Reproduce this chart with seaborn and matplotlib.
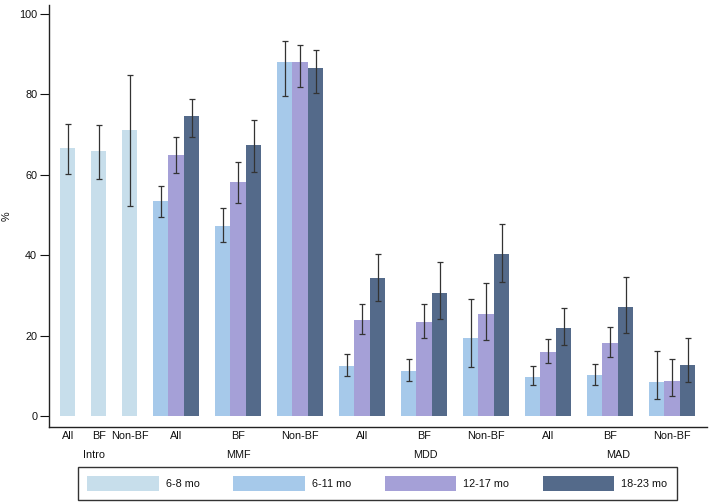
import matplotlib
matplotlib.use("Agg")
import matplotlib.pyplot as plt
import seaborn as sns
import numpy as np
import pandas as pd

# Dados (%), com intervalos de confiança
subgrupos = ['All', 'BF', 'Non-BF']
indicadores = ['MMF', 'MDD', 'MAD']
idades = ['6-8 mo', '6-11 mo', '12-17 mo', '18-23 mo']

# Intro: só 6-8 meses
intro_vals = [66.7, 65.9, 71.0]
intro_lo = [60.2, 59.0, 52.1]
intro_hi = [72.6, 72.3, 84.7]

# MMF (All, BF, Non-BF), MDD (...), MAD (...)
vals_6_11 = [53.4, 47.3, 88.0, 12.4, 11.2, 19.3, 9.8, 10.1, 8.4]
lo_6_11 = [49.4, 43.2, 79.5, 10.0, 8.7, 12.2, 7.6, 7.8, 4.3]
hi_6_11 = [57.2, 51.6, 93.2, 15.3, 14.1, 29.0, 12.5, 13.0, 16.2]

vals_12_17 = [65.0, 58.2, 88.0, 23.9, 23.4, 25.3, 16.0, 18.1, 8.7]
lo_12_17 = [60.5, 53.0, 81.8, 20.3, 19.5, 18.8, 13.1, 14.7, 5.1]
hi_12_17 = [69.4, 63.1, 92.2, 27.9, 27.9, 33.0, 19.2, 22.1, 14.2]

vals_18_23 = [74.6, 67.5, 86.6, 34.4, 30.7, 40.4, 21.8, 27.0, 12.8]
lo_18_23 = [69.5, 60.7, 80.2, 28.7, 24.0, 33.4, 17.6, 20.6, 8.4]
hi_18_23 = [78.9, 73.6, 91.0, 40.3, 38.2, 47.8, 26.8, 34.6, 19.3]

cores = {
    '6-8 mo': '#c7deeb',
    '6-11 mo': '#a6c9ea',
    '12-17 mo': '#a5a0d7',
    '18-23 mo': '#546a8a',
}

# Montar tabela longa com posição de cada barra (uma "vaga" por barra)
linhas = []
for i, sg in enumerate(subgrupos):
    linhas.append({'ind': 'Intro', 'sub': sg, 'idade': '6-8 mo', 'pos': 2 * i,
                   'pct': intro_vals[i], 'lo': intro_lo[i], 'hi': intro_hi[i]})

series = [('6-11 mo', vals_6_11, lo_6_11, hi_6_11),
          ('12-17 mo', vals_12_17, lo_12_17, hi_12_17),
          ('18-23 mo', vals_18_23, lo_18_23, hi_18_23)]
for a, (idade, v, lo, hi) in enumerate(series):
    for j, ind in enumerate(indicadores):
        for s, sg in enumerate(subgrupos):
            k = 3 * j + s
            linhas.append({'ind': ind, 'sub': sg, 'idade': idade,
                           'pos': 6 + 12 * j + 4 * s + a,
                           'pct': v[k], 'lo': lo[k], 'hi': hi[k]})

df = pd.DataFrame(linhas)

sns.set_style('ticks')
plt.rcParams['font.family'] = ['Liberation Sans', 'DejaVu Sans']
plt.rcParams['text.color'] = '#111111'
plt.rcParams['xtick.color'] = '#111111'
plt.rcParams['ytick.color'] = '#111111'
plt.rcParams['axes.labelcolor'] = '#111111'
fs = 7.8

fig = plt.figure(figsize=(7.09, 5.03), dpi=100)
ax = fig.add_axes([49 / 709, 1 - 427 / 503, 658 / 709, 422 / 503])

sns.barplot(data=df, x='pos', y='pct', hue='idade', hue_order=idades,
            palette=cores, native_scale=True, dodge=False, width=1,
            saturation=1, linewidth=0, errorbar=None, ax=ax)

ax.errorbar(df['pos'], df['pct'], yerr=[df['pct'] - df['lo'], df['hi'] - df['pct']],
            fmt='none', ecolor='#333333', elinewidth=0.9, capsize=2.3, capthick=0.9)

ax.set_xlim(-1.21, 41.25)
ax.set_ylim(-2.73, 102.2)

# Rótulos dos subgrupos e dos indicadores
tick_pos = [0, 2, 4] + [7 + 12 * j + 4 * s for j in range(3) for s in range(3)]
tick_lab = subgrupos * 4
ax.set_xticks(tick_pos)
ax.set_xticklabels(tick_lab, fontsize=fs)
ax.tick_params(axis='x', length=0, pad=3.2)

centros = {'Intro': 1.7, 'MMF': 11, 'MDD': 23.1, 'MAD': 35.5}
for nome, c in centros.items():
    ax.text(c, -0.0664, nome, transform=ax.get_xaxis_transform(),
            ha='center', va='center', fontsize=fs)

ax.set_yticks([0, 20, 40, 60, 80, 100])
ax.tick_params(axis='y', labelsize=fs, length=6.5, width=0.8, pad=2)
ax.set_xlabel('')
ax.set_ylabel('%', fontsize=fs, va='center')
ax.yaxis.set_label_coords(-0.064, 0.5)

sns.despine(ax=ax)
for lado in ['left', 'bottom']:
    ax.spines[lado].set_linewidth(1.0)
    ax.spines[lado].set_color('#222222')

handles, labels = ax.get_legend_handles_labels()
if ax.get_legend() is not None:
    ax.get_legend().remove()
leg = fig.legend(handles, labels, loc='center', bbox_to_anchor=(377.5 / 709, 1 - 483.5 / 503),
                 ncol=4, fontsize=fs, frameon=True, fancybox=False, edgecolor='black',
                 handlelength=6.6, handleheight=1.7, handletextpad=0.65,
                 columnspacing=3.1, borderpad=0.85)
leg.get_frame().set_linewidth(1.0)

fig.savefig('out.png', dpi=100)
